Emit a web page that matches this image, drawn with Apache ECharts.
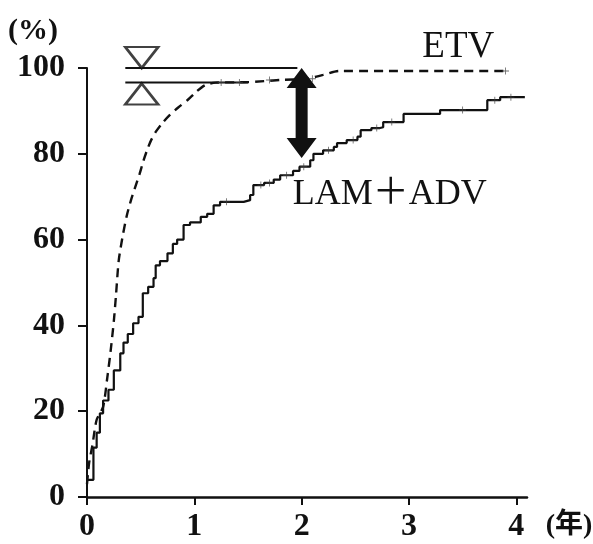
<!DOCTYPE html>
<html><head><meta charset="utf-8">
<script src="https://cdn.jsdelivr.net/npm/echarts@6/dist/echarts.min.js"></script>
<style>html,body{margin:0;padding:0;background:#fff}#c{width:593px;height:544px}</style>
</head><body><div id="c"></div>
<script>
const xTicks = [0, 1, 2, 3, 4];
const yTicks = [0, 20, 40, 60, 80, 100];
const etv = [[0,3],[0.02,8],[0.05,12],[0.09,18],[0.15,21],[0.19,28],[0.22,34],[0.25,41],[0.27,47],[0.295,55],[0.33,60.5],[0.37,65.5],[0.41,69.2],[0.45,72.3],[0.49,75.3],[0.525,78.3],[0.565,81.2],[0.6,83.3],[0.64,85.1],[0.7,87.1],[0.77,89],[0.85,90.8],[0.94,92.6],[1.02,94.5],[1.1,96],[1.2,96.6],[1.5,96.7],[1.8,97.2],[2.05,97.5],[2.2,98.4],[2.35,99.3],[3.92,99.3]];
const lam = [[0,4],[0.04,4],[0.06,11.5],[0.09,15],[0.12,19.5],[0.15,22.5],[0.2,25],[0.25,29.5],[0.31,33.5],[0.34,36],[0.38,38],[0.43,40.5],[0.48,42],[0.52,47.5],[0.57,49],[0.62,51],[0.64,54],[0.68,55],[0.75,56.8],[0.8,59],[0.84,60],[0.9,63.4],[0.96,64],[1.06,65.3],[1.12,66],[1.18,68],[1.24,68.8],[1.46,69.2],[1.52,70.4],[1.55,72.7],[1.65,73.2],[1.74,74],[1.8,75],[1.92,76],[1.98,77],[2.08,78.5],[2.11,80],[2.2,80.8],[2.3,81.6],[2.33,82.5],[2.42,83.2],[2.52,84],[2.55,85.5],[2.65,86],[2.73,86.2],[2.76,87.4],[2.92,87.4],[2.95,89.3],[3.29,90.2],[3.73,92.5],[3.85,93.2],[4.08,93.2]];
const lamCensor = [[1.3,68.8],[1.62,72.7],[1.7,73.2],[1.86,75],[2.02,77],[2.25,80.8],[2.48,83.2],[2.7,86],[2.84,87.4],[3.5,90.2],[3.8,92.5],[3.95,93.2]];
const etvCensor = [[1.25,96.6],[1.42,96.6],[1.7,97.2],[2.1,97.5],[3.9,99.3]];
const refTop = [[0.357,100],[1.96,100]];
const refBottom = [[0.357,96.6],[1.5,96.6]];
const triTop = [[0.51,100]];
const triBottom = [[0.51,96.6]];
const arrowX = 2, arrowTop = 100, arrowBottom = 79;
const etvLabel = {x: 3.46, y: 104.9, text: 'ETV'};
const lamLabel = {x: 2.82, y: 70.4, text: 'LAM＋ADV'};

const serif = '"Liberation Serif", "Noto Sans CJK JP", serif';
const chart = echarts.init(document.getElementById('c'));
const black = '#111';
const plus = 'path://M4.4,0H5.6V4.4H10V5.6H5.6V10H4.4V5.6H0V4.4H4.4Z';
chart.setOption({
  animation: false,
  backgroundColor: '#fff',
  grid: {left: 87, right: 66, top: 68, bottom: 47},
  xAxis: {
    type: 'value', min: 0, max: 4.1,
    axisLine: {show: true, lineStyle: {color: black, width: 2.5}},
    axisTick: {show: true, length: 8, lineStyle: {color: black, width: 2}, customValues: xTicks},
    axisLabel: {customValues: xTicks, color: black, fontFamily: serif, fontSize: 32, fontWeight: 'bold', margin: 14},
    splitLine: {show: false}
  },
  yAxis: {
    type: 'value', min: 0, max: 100, interval: 20,
    axisLine: {show: true, lineStyle: {color: black, width: 2}},
    axisTick: {show: true, length: 9, lineStyle: {color: black, width: 2}},
    axisLabel: {color: black, fontFamily: serif, fontSize: 32, fontWeight: 'bold', margin: 22},
    splitLine: {show: false}
  },
  series: [
    {type: 'line', data: refTop, symbol: 'none', lineStyle: {color: black, width: 2}, z: 3},
    {type: 'line', data: refBottom, symbol: 'none', lineStyle: {color: black, width: 2}, z: 3},
    {type: 'line', data: etv, symbol: 'none', smooth: 0.25, lineStyle: {color: black, width: 2.4, type: [9, 6]}, z: 4},
    {type: 'line', data: lam, symbol: 'none', step: 'end', lineStyle: {color: black, width: 2.2}, z: 4},
    {type: 'scatter', data: lamCensor, symbol: plus, symbolSize: 7, itemStyle: {color: '#444'}, z: 4},
    {type: 'scatter', data: etvCensor, symbol: plus, symbolSize: 7, itemStyle: {color: '#444'}, z: 4},
    {type: 'scatter', data: triTop, symbol: 'triangle', symbolSize: [33, 21], symbolRotate: 180, symbolOffset: [0, -10.5],
      itemStyle: {color: '#fff', borderColor: black, borderWidth: 2.5}, z: 5},
    {type: 'scatter', data: triBottom, symbol: 'triangle', symbolSize: [33, 21], symbolOffset: [0, 11.5],
      itemStyle: {color: '#fff', borderColor: black, borderWidth: 2.5}, z: 5}
  ]
});

const p = v => chart.convertToPixel({gridIndex: 0}, v);
const [cx, yt] = p([arrowX, arrowTop]);
const yb = p([arrowX, arrowBottom])[1];
const hw = 15, sw = 6, hh = 20;
const pe = p([etvLabel.x, etvLabel.y]);
const pl = p([lamLabel.x, lamLabel.y]);
chart.setOption({
  graphic: [
    {type: 'polygon', z: 10, shape: {points: [[cx, yt], [cx + hw, yt + hh], [cx + sw, yt + hh], [cx + sw, yb - hh], [cx + hw, yb - hh], [cx, yb], [cx - hw, yb - hh], [cx - sw, yb - hh], [cx - sw, yt + hh], [cx - hw, yt + hh]]}, style: {fill: black}},
    {type: 'text', x: pe[0], y: pe[1], z: 10, style: {text: etvLabel.text, fill: black, font: 'normal 37px ' + serif, align: 'center', verticalAlign: 'middle'}},
    {type: 'text', x: pl[0], y: pl[1], z: 10, style: {text: lamLabel.text, fill: black, font: 'normal 36px ' + serif, align: 'center', verticalAlign: 'middle'}},
    {type: 'text', x: 33, y: 31, z: 10, style: {text: '(%)', fill: black, font: 'bold 30px ' + serif, align: 'center', verticalAlign: 'middle'}},
    {type: 'text', x: 569, y: 526, z: 10, style: {text: '(年)', fill: black, font: 'bold 28px ' + serif, align: 'center', verticalAlign: 'middle'}}
  ]
});
</script></body></html>
